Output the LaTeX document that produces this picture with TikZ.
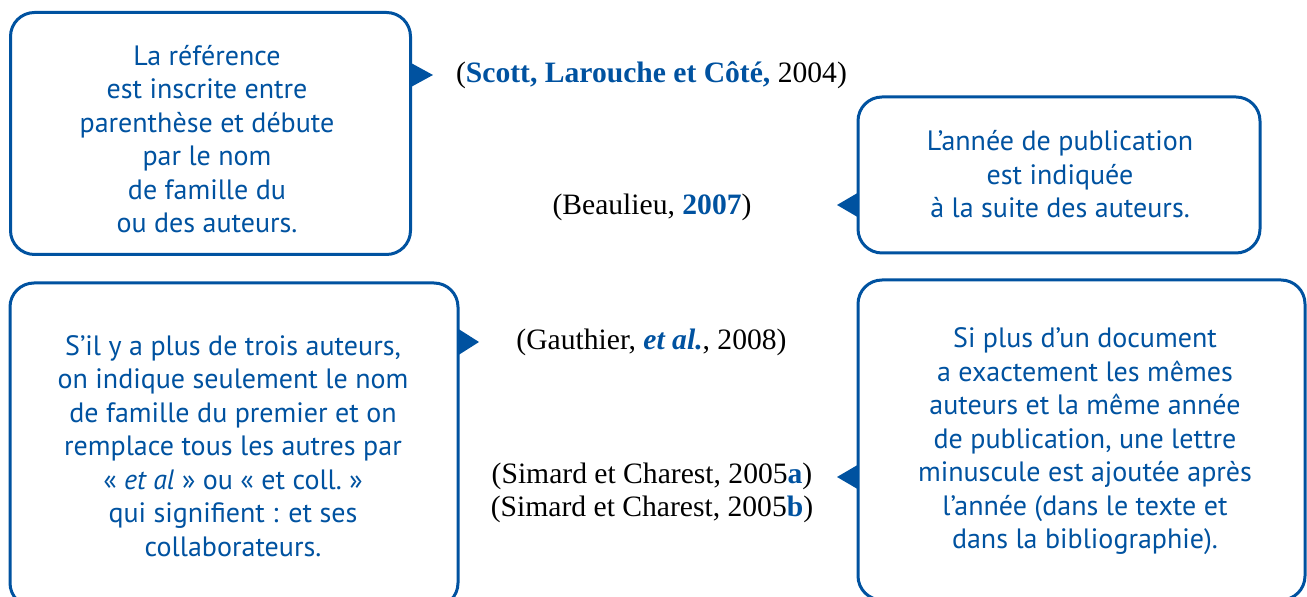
\documentclass[tikz,border=0pt]{standalone}
\usepackage{fontspec}
\setmainfont{PT Sans}
\newfontfamily\citefont{Liberation Serif}
\usetikzlibrary{calc}
\definecolor{bleu}{RGB}{0,82,160}
\tikzset{
  cadre/.style={draw=bleu, line width=1.5pt, rounded corners=12pt},
  texte/.style={text=bleu, align=center, font=\fontsize{14}{16.75}\selectfont},
  renvoi/.style={text=black, align=center, font=\citefont\fontsize{14.8}{16.5}\selectfont},
  pointe/.style={fill=bleu}
}
\begin{document}
\begin{tikzpicture}[x=0.5pt,y=-0.5pt]
\useasboundingbox (0,0) rectangle (1307,597);
\clip (0,0) rectangle (1307,597);
% encadres
\node[cadre, minimum width=200pt, minimum height=121pt] (nom) at (210.5,133.5) {};
\node[cadre, minimum width=201pt, minimum height=78pt] (annee) at (1059,175) {};
\node[cadre, minimum width=224pt, minimum height=162pt] (etal) at (234,445) {};
\node[cadre, minimum width=223.5pt, minimum height=160pt] (lettre) at (1081.5,440) {};
\node[texte] (txtnom) at (207,139)
  {La référence\\est inscrite entre\\parenthèse et débute\\par le nom\\de famille du\\ou des auteurs.};
\node[texte] (txtannee) at (1060,174.5)
  {L’année de publication\\est indiquée\\à la suite des auteurs.};
\node[texte] (txtetal) at (233,446)
  {S’il y a plus de trois auteurs,\\on indique seulement le nom\\de famille du premier et on\\remplace tous les autres par\\«~\textit{et al}~» ou «~et coll.~»\\qui signifient : et ses\\collaborateurs.};
\node[texte] (txtlettre) at (1085,441.5)
  {Si plus d’un document\\a exactement les mêmes\\auteurs et la même année\\de publication, une lettre\\minuscule est ajoutée après\\l’année (dans le texte et\\dans la bibliographie).};
% citations
\node[renvoi] (refnom) at (651.5,75) {(\textbf{\color{bleu}Scott, Larouche et Côté,} 2004)};
\node[renvoi] (refannee) at (652,207) {(Beaulieu, \textbf{\color{bleu}2007})};
\node[renvoi] (refetal) at (651.5,342) {(Gauthier, \textbf{\textit{\color{bleu}et al.}}, 2008)};
\node[renvoi] (reflettre) at (652,493) {(Simard et Charest, 2005\textbf{\color{bleu}a})\\(Simard et Charest, 2005\textbf{\color{bleu}b})};
% pointes
\coordinate (tnom) at (433,75);
\coordinate (tannee) at (837,205);
\coordinate (tetal) at (479,342);
\coordinate (tlettre) at (837,477);
\fill[pointe] ($(nom.east |- tnom)+(-1,-12)$) -- (tnom) -- ($(nom.east |- tnom)+(-1,12)$) -- cycle;
\fill[pointe] ($(annee.west |- tannee)+(1,-12)$) -- (tannee) -- ($(annee.west |- tannee)+(1,12)$) -- cycle;
\fill[pointe] ($(etal.east |- tetal)+(-1,-13)$) -- (tetal) -- ($(etal.east |- tetal)+(-1,13)$) -- cycle;
\fill[pointe] ($(lettre.west |- tlettre)+(1,-12)$) -- (tlettre) -- ($(lettre.west |- tlettre)+(1,12)$) -- cycle;
\end{tikzpicture}
\end{document}
